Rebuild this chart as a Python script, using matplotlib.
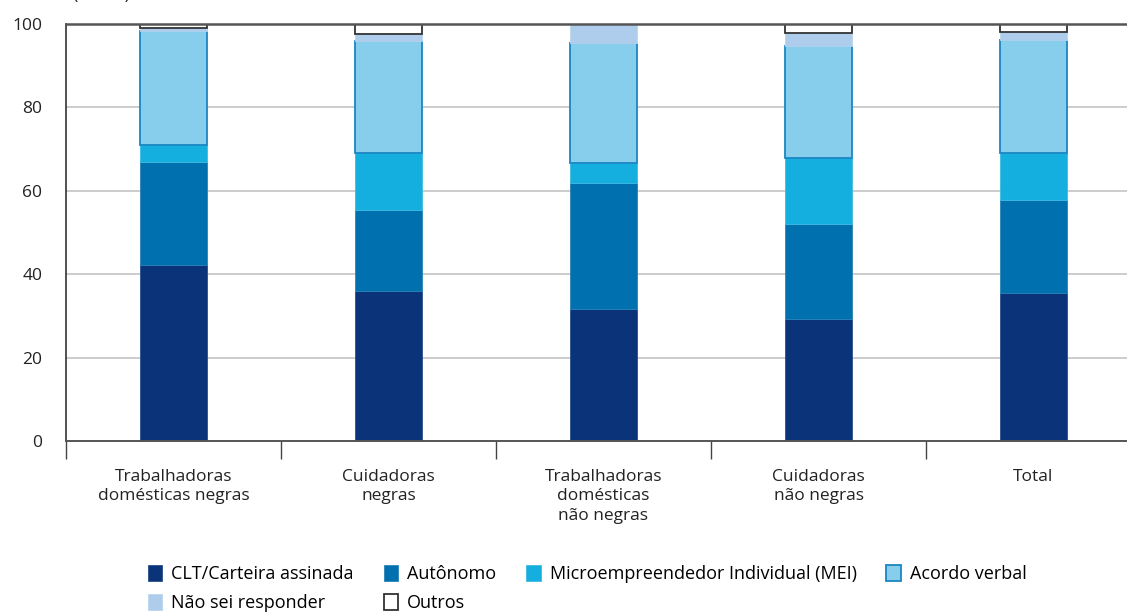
import matplotlib
matplotlib.use("Agg")
import matplotlib.pyplot as plt
from matplotlib.patches import Patch
import numpy as np

plt.rcParams['font.family'] = ['Open Sans', 'DejaVu Sans']

categories = ["Trabalhadoras\ndomésticas negras", "Cuidadoras\nnegras",
              "Trabalhadoras\ndomésticas\nnão negras", "Cuidadoras\nnão negras", "Total"]
series_names = ["CLT/Carteira assinada", "Autônomo", "Microempreendedor Individual (MEI)",
                "Acordo verbal", "Não sei responder", "Outros"]
clt = [42.2, 36.0, 31.7, 29.3, 35.5]
autonomo = [24.7, 19.4, 30.2, 22.7, 22.3]
mei = [4.1, 13.7, 4.8, 15.9, 11.3]
acordo = [27.3, 26.9, 28.7, 26.8, 27.1]
nao_sei = [0.7, 1.5, 4.6, 3.1, 1.9]
outros = [1.0, 2.5, 0.0, 2.2, 1.9]
yticks = [0, 20, 40, 60, 80, 100]

series = [clt, autonomo, mei, acordo, nao_sei, outros]
faces = ["#0a337a", "#0071ae", "#14afde", "#87ceed", "#aecdec", "#ffffff"]
edges = ["#2a4f8a", "#2a84b8", "#3dbbe3", "#1a86c4", "#bcd6ef", "#333333"]
lws = [0.6, 0.6, 0.6, 1.3, 0.6, 1.3]

W, H = 1127, 613
fig = plt.figure(figsize=(W / 100, H / 100), dpi=100)
ax = fig.add_axes([66 / W, 1 - 441 / H, (1141 - 66) / W, (441 - 24) / H])

x = np.arange(len(categories))
bottom = np.zeros(len(categories))
for vals, fc, ec, lw in zip(series, faces, edges, lws):
    v = np.array(vals)
    mask = v > 0
    ax.bar(x[mask], v[mask], width=0.31, bottom=bottom[mask], color=fc,
           edgecolor=ec, linewidth=lw, zorder=3)
    bottom += v

ax.set_xlim(-0.5, len(categories) - 0.5)
ax.set_ylim(0, 100)
ax.set_yticks(yticks)
ax.set_yticklabels([str(t) for t in yticks], fontsize=12.5, color="#222222")
ax.tick_params(axis='y', length=0, pad=17)
for t in yticks[1:-1]:
    ax.axhline(t, color="#cccccc", linewidth=1.4, zorder=1)
ax.axhline(100, color="#555555", linewidth=1.8, zorder=4, clip_on=False)
ax.axhline(0, color="#555555", linewidth=1.4, zorder=4, clip_on=False)

for s in ["top", "right", "bottom"]:
    ax.spines[s].set_visible(False)
ax.spines["left"].set_color("#333333")
ax.spines["left"].set_linewidth(1.2)

ax.set_xticks(x)
ax.set_xticklabels(categories, fontsize=12.5, color="#222222", linespacing=1.3)
ax.tick_params(axis='x', length=0, pad=20)
ax.set_xticks(np.arange(-0.5, len(categories)), minor=True)
ax.tick_params(axis='x', which='minor', length=13, width=1.0, color="#444444", direction='out')
ax.set_xticklabels([], minor=True)

fig.text(73 / W, 1 + 1 / H, "(Em %)", fontsize=13, color="#222222", va='baseline', ha='left')

handles = [Patch(facecolor=fc, edgecolor=ec, linewidth=lw) for fc, ec, lw in zip(faces, edges, lws)]
order = [0, 4, 1, 5, 2, 3]
leg = fig.legend([handles[i] for i in order], [series_names[i] for i in order],
                 ncol=4, loc='upper left', bbox_to_anchor=(148 / W, 1 - 565 / H),
                 frameon=False, fontsize=13, handlelength=0.8, handleheight=1.0,
                 handletextpad=0.5, columnspacing=1.65, labelspacing=0.6,
                 borderaxespad=0, borderpad=0)

fig.savefig("out.png", dpi=100)
